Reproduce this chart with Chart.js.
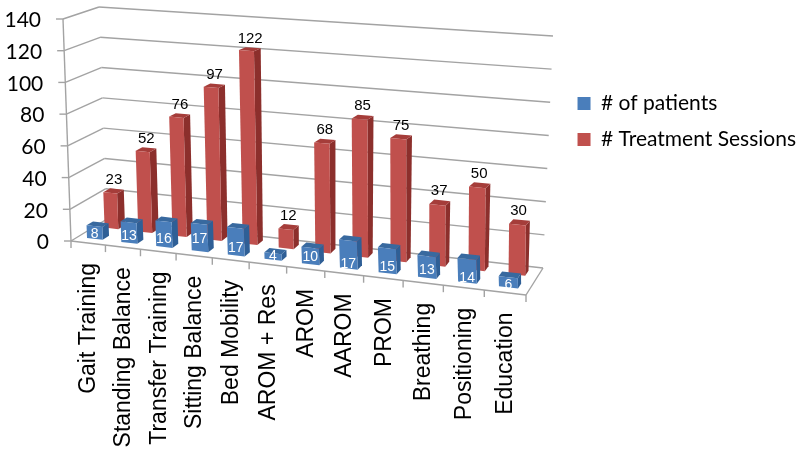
<!DOCTYPE html>
<html>
<head>
<meta charset="utf-8">
<style>
  body { margin: 0; background: #fff; }
  #myChart { display: block; }
</style>
<script src="https://cdn.jsdelivr.net/npm/chart.js@4"></script>
</head>
<body>
<canvas id="myChart" width="800" height="453"></canvas>
<script>
const categories = ['Gait Training', 'Standing Balance', 'Transfer Training', 'Sitting Balance', 'Bed Mobility', 'AROM + Res', 'AROM', 'AAROM', 'PROM', 'Breathing', 'Positioning', 'Education'];
const patients = [8, 13, 16, 17, 17, 4, 10, 17, 15, 13, 14, 6];
const sessions = [23, 52, 76, 97, 122, 12, 68, 85, 75, 37, 50, 30];

// corners of the 3D box on screen: [floor, top of wall]
const box = {
    frontLeft: [[71, 241], [63, 19]],
    frontRight: [[526, 295], [516, 55]],
    backLeft: [[107, 219], [99, 7]],
    backRight: [[543, 268], [553, 36]]
};
const perspective = 1.11; // right end of the x axis is closer to the viewer
const patientLabelDrop = [2, 4, 5, 2, 6, 0, 1, 10, 6, 3, 7, 3]; // blue labels sit unevenly in the original

const lerp = (a, b, t) => a + (b - a) * t;

// u: along x axis, v: depth, w: height (all 0..1)
function project(u, v, w) {
    const s = u / (u + perspective * (1 - u));
    const out = [];
    for (let i = 0; i < 2; i++) {
        const floor = lerp(lerp(box.frontLeft[0][i], box.frontRight[0][i], s), lerp(box.backLeft[0][i], box.backRight[0][i], s), v);
        const top = lerp(lerp(box.frontLeft[1][i], box.frontRight[1][i], s), lerp(box.backLeft[1][i], box.backRight[1][i], s), v);
        out.push(lerp(floor, top, w));
    }
    return out;
}

function fillQuad(ctx, pts, color) {
    ctx.fillStyle = color;
    ctx.beginPath();
    pts.forEach((p, i) => i ? ctx.lineTo(p[0], p[1]) : ctx.moveTo(p[0], p[1]));
    ctx.closePath();
    ctx.fill();
}

function line(ctx, a, b) {
    ctx.beginPath();
    ctx.moveTo(a[0], a[1]);
    ctx.lineTo(b[0], b[1]);
    ctx.stroke();
}

// draws the walls, axes and bars through the chart's own scales
const box3d = {
    id: 'box3d',
    afterLayout(chart) {
        // legend sits closer to the right edge than its padding allows
        chart.legend.left += 10;
        chart.legend.right += 10;
    },
    beforeDatasetsDraw(chart) {
        const ctx = chart.ctx;
        const xs = chart.scales.x;
        const ys = chart.scales.y;
        const toU = px => (px - xs.left) / (xs.right - xs.left);
        const toW = px => (ys.bottom - px) / (ys.bottom - ys.top);

        ctx.save();
        ctx.strokeStyle = '#a3a3a3';
        ctx.lineWidth = 1.4;

        // walls and value axis
        ctx.font = '21px Lato';
        ctx.textAlign = 'right';
        ctx.textBaseline = 'middle';
        ys.ticks.forEach(tick => {
            const w = toW(ys.getPixelForValue(tick.value));
            const front = project(0, 0, w);
            const back = project(0, 1, w);
            line(ctx, front, back);
            line(ctx, back, project(1, 1, w));
            line(ctx, [front[0] - 7, front[1]], front);
            ctx.fillStyle = '#000';
            ctx.fillText(tick.value, front[0] - 22, front[1] + 1.5);
        });
        line(ctx, project(0, 0, 0), project(0, 0, 1));

        // floor
        line(ctx, project(0, 0, 0), project(1, 0, 0));
        line(ctx, project(1, 0, 0), project(1, 1, 0));

        // category ticks and labels
        const step = 1 / categories.length;
        categories.forEach((name, i) => {
            const u = toU(xs.getPixelForValue(i));
            const t0 = project(u - step / 2, 0, 0);
            line(ctx, t0, [t0[0], t0[1] + 7]);
            const c = project(u, 0, 0);
            ctx.save();
            ctx.translate(c[0] + 1, c[1] + 20);
            ctx.rotate(-Math.PI / 2);
            ctx.font = '23px "Liberation Sans"';
            ctx.textAlign = 'right';
            ctx.textBaseline = 'middle';
            ctx.fillStyle = '#000';
            ctx.fillText(name, 0, 0);
            ctx.restore();
        });
        const tEnd = project(1, 0, 0);
        line(ctx, tEnd, [tEnd[0], tEnd[1] + 7]);

        // back row first, then front row
        [1, 0].forEach(index => {
            const ds = chart.data.datasets[index];
            const meta = chart.getDatasetMeta(index);
            meta.data.forEach((bar, i) => {
                const p = bar.getProps(['x', 'y', 'width']);
                const u0 = toU(p.x - p.width / 2);
                const u1 = toU(p.x + p.width / 2);
                const h = toW(p.y);
                const v0 = ds.depth[0];
                const v1 = ds.depth[1];
                fillQuad(ctx, [project(u1, v0, 0), project(u1, v1, 0), project(u1, v1, h), project(u1, v0, h)], ds.sideColor);
                fillQuad(ctx, [project(u0, v0, h), project(u1, v0, h), project(u1, v1, h), project(u0, v1, h)], ds.topColor);
                fillQuad(ctx, [project(u0, v0, 0), project(u1, v0, 0), project(u1, v0, h), project(u0, v0, h)], ds.backgroundColor);

                const value = ds.data[i];
                if (index === 1) {
                    const c = project((u0 + u1) / 2, v1, h);
                    ctx.font = '15px "Liberation Sans"';
                    ctx.fillStyle = '#000';
                    ctx.textAlign = 'center';
                    ctx.fillText(value, c[0] - 3, c[1] - 9);
                } else {
                    const c = project((u0 + u1) / 2, v0, h / 2);
                    ctx.font = '14px "Liberation Sans"';
                    ctx.fillStyle = '#fff';
                    ctx.textAlign = 'center';
                    ctx.fillText(value, c[0], c[1] + patientLabelDrop[i]);
                }
            });
        });
        ctx.restore();
        return false;
    }
};

new Chart(document.getElementById('myChart'), {
    type: 'bar',
    data: {
        labels: categories,
        datasets: [
            {
                label: '# of patients',
                data: patients,
                backgroundColor: '#4a7ebb',
                sideColor: '#2f5f96',
                topColor: '#38699f',
                depth: [0.19, 0.37],
                barPercentage: 0.46,
                categoryPercentage: 1
            },
            {
                label: '# Treatment Sessions',
                data: sessions,
                backgroundColor: '#c0504d',
                sideColor: '#8c2f2c',
                topColor: '#a53d3a',
                depth: [0.66, 0.85],
                barPercentage: 0.41,
                categoryPercentage: 1
            }
        ]
    },
    options: {
        responsive: false,
        animation: false,
        layout: { padding: { top: 78, right: 4, bottom: 10, left: 10 } },
        scales: {
            x: { display: false, stacked: true },
            y: { display: false, min: 0, max: 140, ticks: { stepSize: 20 } }
        },
        plugins: {
            tooltip: { enabled: false },
            legend: {
                position: 'right',
                align: 'start',
                labels: {
                    color: '#000',
                    boxWidth: 13,
                    boxHeight: 13,
                    padding: 15,
                    font: { family: 'Lato', size: 21 }
                }
            }
        }
    },
    plugins: [box3d]
});
</script>
</body>
</html>
